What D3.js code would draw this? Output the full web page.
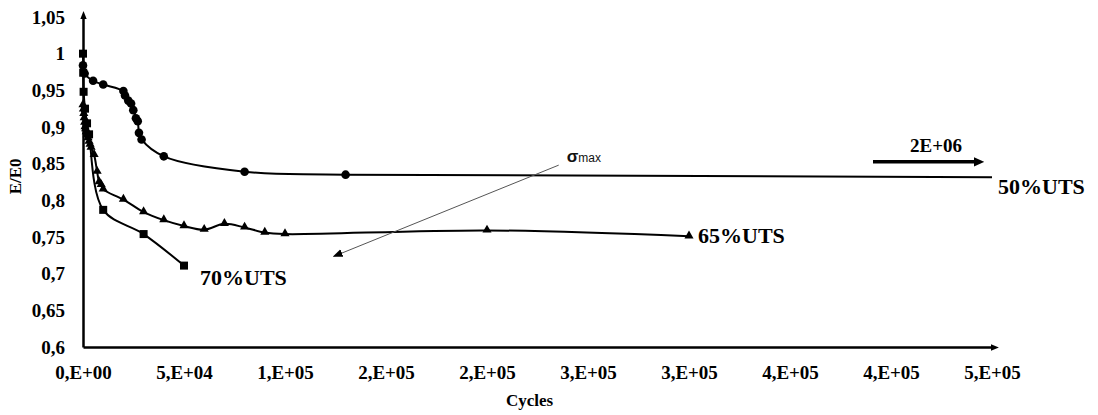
<!DOCTYPE html>
<html>
<head>
<meta charset="utf-8">
<script src="https://cdn.jsdelivr.net/npm/d3@7"></script>
<style>
body { margin: 0; background: #fff; }
text { font-family: "Liberation Serif", "Times New Roman", serif; font-weight: bold; fill: #000; }
.axis text { font-size: 19px; }
.axis path { stroke: #000; stroke-width: 2.5px; }
.line { fill: none; stroke: #000; stroke-width: 2px; }
.series-label { font-size: 22px; }
.sigma { font-family: "Liberation Sans", Arial, sans-serif; fill: #111; }
</style>
</head>
<body>
<div id="chart"></div>
<script>
// DATA (cycles, E/E0)

var s50 = [[0, 0.984], [800, 0.973], [5000, 0.963], [10000, 0.958], [20000, 0.949], [20800, 0.943],
    [22400, 0.936], [23800, 0.932], [24900, 0.923], [26200, 0.912], [27100, 0.908], [27700, 0.892],
    [29000, 0.883], [40000, 0.860], [80000, 0.839], [130000, 0.835]];
// 50% UTS run goes on to 2E+06 cycles, off the right edge
var s50Tail = [[2000000, 0.820]];

var s65 = [[0, 0.930], [200, 0.924], [400, 0.918], [600, 0.912], [800, 0.906], [1000, 0.900],
    [1300, 0.897], [1600, 0.893], [2000, 0.889], [2500, 0.885], [3000, 0.880], [3500, 0.876],
    [4000, 0.872], [5500, 0.862], [7000, 0.839], [8000, 0.825], [9000, 0.821], [10000, 0.815],
    [20000, 0.801], [30000, 0.784], [40000, 0.773], [50000, 0.765], [60000, 0.760], [70000, 0.768],
    [80000, 0.763], [90000, 0.756], [100000, 0.754], [200000, 0.759], [300000, 0.751]];

var s70 = [[0, 1.000], [100, 0.974], [300, 0.948], [1000, 0.925], [2000, 0.905], [3000, 0.890],
    [10000, 0.787], [30000, 0.754], [50000, 0.711]];

var seriesNames = ["50%UTS", "65%UTS", "70%UTS"];

var xTicks = [0, 50000, 100000, 150000, 200000, 250000, 300000, 350000, 400000, 450000];
var xTickLabels = ["0,E+00", "5,E+04", "1,E+05", "2,E+05", "2,E+05", "3,E+05", "3,E+05", "4,E+05", "4,E+05", "5,E+05"];
var yTicks = [0.6, 0.65, 0.7, 0.75, 0.8, 0.85, 0.9, 0.95, 1, 1.05];
var yTickLabels = ["0,6", "0,65", "0,7", "0,75", "0,8", "0,85", "0,9", "0,95", "1", "1,05"];

var margin = {top: 17, right: 106, bottom: 68, left: 83},
    width = 1098 - margin.left - margin.right,
    height = 415 - margin.top - margin.bottom;

var x = d3.scaleLinear()
    .domain([0, 450000])
    .range([0, width]);

var y = d3.scaleLinear()
    .domain([0.6, 1.05])
    .range([height, 0]);

var line = d3.line()
    .curve(d3.curveCatmullRom.alpha(0.5))
    .x(function(d) { return x(d[0]); })
    .y(function(d) { return y(d[1]); });

var svg = d3.select("#chart").append("svg")
    .attr("width", width + margin.left + margin.right)
    .attr("height", height + margin.top + margin.bottom)
    .append("g")
    .attr("transform", "translate(" + margin.left + "," + margin.top + ")");

var defs = svg.append("defs");

defs.append("marker")
    .attr("id", "axis-arrow")
    .attr("viewBox", "0 -5 10 10")
    .attr("refX", 2)
    .attr("markerWidth", 3.2)
    .attr("markerHeight", 3.2)
    .attr("orient", "auto")
    .append("path")
    .attr("d", "M0,-4L10,0L0,4Z")
    .attr("fill", "#000");

defs.append("marker")
    .attr("id", "thin-arrow")
    .attr("viewBox", "0 -5 10 10")
    .attr("refX", 8)
    .attr("markerWidth", 10)
    .attr("markerHeight", 10)
    .attr("markerUnits", "userSpaceOnUse")
    .attr("orient", "auto")
    .append("path")
    .attr("d", "M0,-4L10,0L0,4Z")
    .attr("fill", "#000");

defs.append("marker")
    .attr("id", "bold-arrow")
    .attr("viewBox", "0 -5 10 10")
    .attr("refX", 4)
    .attr("markerWidth", 3)
    .attr("markerHeight", 3)
    .attr("orient", "auto")
    .append("path")
    .attr("d", "M0,-4.5L10,0L0,4.5Z")
    .attr("fill", "#000");

defs.append("clipPath")
    .attr("id", "plot-clip")
    .append("rect")
    .attr("x", -5)
    .attr("y", -10)
    .attr("width", width + 5)
    .attr("height", height + 20);

// AXES

var xAxis = d3.axisBottom(x)
    .tickValues(xTicks)
    .tickFormat(function(d, i) { return xTickLabels[i]; })
    .tickSize(0)
    .tickSizeOuter(0)
    .tickPadding(19);

var yAxis = d3.axisLeft(y)
    .tickValues(yTicks)
    .tickFormat(function(d, i) { return yTickLabels[i]; })
    .tickSize(0)
    .tickSizeOuter(0)
    .tickPadding(18);

svg.append("g")
    .attr("class", "x axis")
    .attr("transform", "translate(0," + height + ")")
    .call(xAxis)
    .select(".domain")
    .attr("marker-end", "url(#axis-arrow)");

svg.append("g")
    .attr("class", "y axis")
    .call(yAxis)
    .select(".domain")
    .attr("marker-end", "url(#axis-arrow)");

// AXIS LABELS

svg.append("text")
    .attr("x", width / 2 - 8)
    .attr("y", height + 59)
    .style("text-anchor", "middle")
    .style("font-size", "17px")
    .text("Cycles");

svg.append("text")
    .attr("transform", "rotate(-90)")
    .attr("x", -(y(0.8) - 24))
    .attr("y", -margin.left + 21)
    .style("text-anchor", "middle")
    .style("font-size", "17px")
    .text("E/E0");

// ADD LINES

var plot = svg.append("g").attr("clip-path", "url(#plot-clip)");

plot.append("path")
    .attr("class", "line")
    .attr("d", line(s50.concat(s50Tail)));

plot.append("path")
    .attr("class", "line")
    .attr("d", line(s65));

plot.append("path")
    .attr("class", "line")
    .attr("d", line(s70));

// ADD MARKERS

svg.append("g").selectAll("circle")
    .data(s50)
    .enter().append("circle")
    .attr("cx", function(d) { return x(d[0]); })
    .attr("cy", function(d) { return y(d[1]); })
    .attr("r", 4.3)
    .attr("fill", "#000");

svg.append("g").selectAll("path")
    .data(s65)
    .enter().append("path")
    .attr("d", d3.symbol().type(d3.symbolTriangle).size(36))
    .attr("transform", function(d) { return "translate(" + x(d[0]) + "," + (y(d[1]) - 0.5) + ")"; })
    .attr("fill", "#000");

svg.append("g").selectAll("rect")
    .data(s70)
    .enter().append("rect")
    .attr("x", function(d) { return x(d[0]) - 4; })
    .attr("y", function(d) { return y(d[1]) - 4; })
    .attr("width", 8)
    .attr("height", 8)
    .attr("fill", "#000");

// SERIES LABELS

var end50 = [x(450000), y(0.832)];
var end65 = s65[s65.length - 1];
var end70 = s70[s70.length - 1];

svg.append("text")
    .attr("class", "series-label")
    .attr("x", end50[0] + 6)
    .attr("y", end50[1] + 17)
    .text(seriesNames[0]);

svg.append("text")
    .attr("class", "series-label")
    .attr("x", x(end65[0]) + 9)
    .attr("y", y(end65[1]) + 7)
    .text(seriesNames[1]);

svg.append("text")
    .attr("class", "series-label")
    .attr("x", x(end70[0]) + 16)
    .attr("y", y(end70[1]) + 19)
    .text(seriesNames[2]);

// 2E+06 ARROW

svg.append("line")
    .attr("x1", end50[0] - 119)
    .attr("y1", end50[1] - 15)
    .attr("x2", end50[0] - 14)
    .attr("y2", end50[1] - 15)
    .attr("stroke", "#000")
    .attr("stroke-width", 3.5)
    .attr("marker-end", "url(#bold-arrow)");

svg.append("text")
    .attr("x", end50[0] - 56)
    .attr("y", end50[1] - 25)
    .style("text-anchor", "middle")
    .style("font-size", "19px")
    .text("2E+06");

// SIGMA MAX ANNOTATION

var sigFrom = [x(235500), y(0.848)],
    sigTo = [x(124500), y(0.724)];

svg.append("line")
    .attr("x1", sigFrom[0])
    .attr("y1", sigFrom[1])
    .attr("x2", sigTo[0])
    .attr("y2", sigTo[1])
    .attr("stroke", "#555")
    .attr("stroke-width", 1)
    .attr("marker-end", "url(#thin-arrow)");

var sig = svg.append("text")
    .attr("class", "sigma")
    .attr("x", sigFrom[0] + 8)
    .attr("y", sigFrom[1] - 3);

sig.append("tspan")
    .style("font-size", "17px")
    .style("font-weight", "bold")
    .text("σ");

sig.append("tspan")
    .style("font-size", "12px")
    .style("font-weight", "normal")
    .text("max");
</script>
</body>
</html>
